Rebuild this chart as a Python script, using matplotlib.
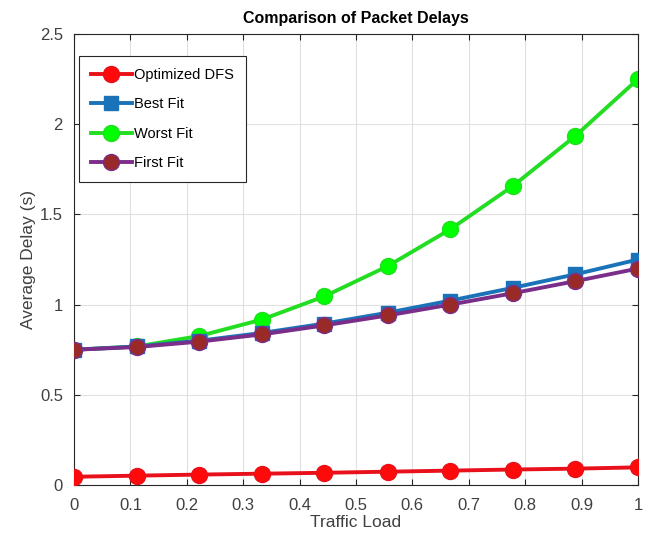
import matplotlib
matplotlib.use("Agg")
import matplotlib.pyplot as plt
import numpy as np

plt.rcParams['font.family'] = ['Liberation Sans', 'DejaVu Sans']

traffic_load = [0.0, 0.111, 0.222, 0.333, 0.444, 0.556, 0.667, 0.778, 0.889, 1.0]
optimized_dfs = [0.046, 0.052, 0.058, 0.063, 0.068, 0.074, 0.080, 0.086, 0.091, 0.098]
best_fit = [0.75, 0.768, 0.80, 0.843, 0.895, 0.955, 1.022, 1.093, 1.168, 1.25]
worst_fit = [0.75, 0.768, 0.826, 0.917, 1.046, 1.213, 1.417, 1.657, 1.935, 2.25]
first_fit = [0.75, 0.765, 0.795, 0.835, 0.885, 0.94, 1.0, 1.063, 1.13, 1.20]

fig = plt.figure(figsize=(6.58, 5.45), dpi=100)
ax = fig.add_axes([0.1125, 0.110, 0.857, 0.8276])

ax.plot(traffic_load, optimized_dfs, '-o', color='#e8101a', mfc='#ff0a0a', mec='#e8101a',
        lw=2.8, ms=11.5, label='Optimized DFS', zorder=5)
ax.plot(traffic_load, best_fit, '-s', color='#1a72b8', mfc='#1a72b8', mec='#1a72b8',
        lw=2.8, ms=9.5, label='Best Fit', zorder=3)
ax.plot(traffic_load, worst_fit, '-o', color='#22dd22', mfc='#00ff00', mec='#22dd22',
        lw=2.8, ms=11.5, label='Worst Fit', zorder=2)
ax.plot(traffic_load, first_fit, '-o', color='#7a2e8a', mfc='#9a2a28', mec='#7a2e8a',
        lw=2.8, ms=11.5, label='First Fit', zorder=4)

ax.set_xlim(0, 1)
ax.set_ylim(0, 2.5)
ax.set_xticks(np.arange(0, 1.01, 0.1))
ax.set_xticklabels(['0', '0.1', '0.2', '0.3', '0.4', '0.5', '0.6', '0.7', '0.8', '0.9', '1'])
ax.set_yticks([0, 0.5, 1, 1.5, 2, 2.5])
ax.set_yticklabels(['0', '0.5', '1', '1.5', '2', '2.5'])
ax.tick_params(direction='in', length=4, labelsize=12, colors='#262626', labelcolor='#404040',
               top=True, right=True, labeltop=False, labelright=False)
ax.tick_params(axis='x', pad=9)
ax.tick_params(axis='y', pad=8)
ax.grid(True, color='#e0e0e0', lw=0.8)
ax.set_axisbelow(True)
for s in ax.spines.values():
    s.set_color('#262626')
    s.set_linewidth(0.8)

ax.set_xlabel('Traffic Load', fontsize=12.5, color='#404040', labelpad=2)
ax.set_ylabel('Average Delay (s)', fontsize=12.5, color='#404040', labelpad=3)
ax.set_title('Comparison of Packet Delays', fontsize=11.5, fontweight='bold', pad=8)

leg = ax.legend(loc='upper left', bbox_to_anchor=(0.008, 0.952), fontsize=10.5, fancybox=False,
                framealpha=1, edgecolor='#262626', handlelength=2.8, borderpad=0.85,
                labelspacing=1.05, handletextpad=0.15, borderaxespad=0)
leg.get_frame().set_linewidth(0.8)

fig.savefig('out.png', dpi=100)
